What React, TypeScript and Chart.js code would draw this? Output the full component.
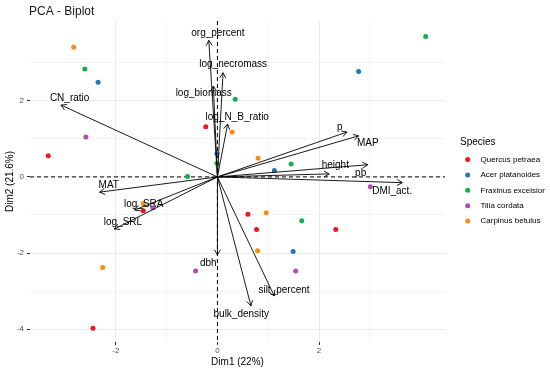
import React, { useEffect, useRef } from "react";
import { Chart, registerables } from "chart.js";

Chart.register(...registerables);

// ---- data ----
const speciesNames = ["Quercus petraea", "Acer platanoides", "Fraxinus excelsior", "Tilia cordata", "Carpinus betulus"];
const speciesColors = ["#F2141C", "#1A78C4", "#12B04A", "#AE4BB4", "#FF8A14"];

const quercusX = [-3.33, -0.23, 0.60, 0.77, 2.33, -1.46, -2.45];
const quercusY = [0.56, 1.32, -0.98, -1.38, -1.38, -0.89, -3.98];
const acerX = [-2.35, 2.78, -0.01, 1.12, 1.49];
const acerY = [2.49, 2.77, 0.61, 0.17, -1.96];
const fraxinusX = [4.10, -2.61, 0.35, -0.01, -0.59, 1.45, 1.66];
const fraxinusY = [3.69, 2.84, 2.04, 0.36, 0.01, 0.34, -1.15];
const tiliaX = [-2.59, -1.27, -0.43, 3.01, 1.54];
const tiliaY = [1.05, -0.81, -2.47, -0.26, -2.47];
const carpinusX = [-2.83, 0.29, 0.80, -1.46, 0.96, 0.79, -2.26];
const carpinusY = [3.41, 1.18, 0.49, -0.70, -0.94, -1.94, -2.38];

const varNames = ["org_percent", "log_necromass", "log_biomass", "log_N_B_ratio", "CN_ratio", "p", "MAP", "height", "pb", "DMI_act.", "MAT", "log_SRA", "log_SRL", "dbh", "bulk_density", "silt_percent"];
const varX = [-0.17, 0.11, -0.08, 0.20, -3.08, 2.55, 2.78, 2.96, 2.20, 3.64, -2.32, -1.63, -2.03, 0.00, 0.66, 1.12];
const varY = [3.59, 2.74, 2.39, 1.39, 1.89, 1.18, 1.08, 0.32, 0.08, -0.15, -0.40, -0.87, -1.37, -2.05, -3.39, -3.13];
const labelX = [0.01, 0.31, -0.27, 0.39, -2.91, 2.41, 2.96, 2.32, 2.82, 3.44, -2.14, -1.45, -1.86, -0.18, 0.47, 1.31];
const labelY = [3.78, 2.95, 2.20, 1.57, 2.06, 1.30, 0.89, 0.30, 0.09, -0.37, -0.21, -0.72, -1.19, -2.28, -3.61, -2.98];

const xMin = -3.69, xMax = 4.48, yMin = -4.34, yMax = 4.10;
const titleText = "PCA - Biplot";
const xTitle = "Dim1 (22%)";
const yTitle = "Dim2 (21.6%)";
const legendTitle = "Species";

const FONT = "'Liberation Sans', Arial, sans-serif";

const seriesX = [quercusX, acerX, fraxinusX, tiliaX, carpinusX];
const seriesY = [quercusY, acerY, fraxinusY, tiliaY, carpinusY];

const overlayPlugin = {
  id: "overlay",
  beforeDatasetsDraw(chart: any) {
    const { ctx, chartArea, scales } = chart;
    const x0 = scales.x.getPixelForValue(0);
    const y0 = scales.y.getPixelForValue(0);
    ctx.save();
    ctx.strokeStyle = "#000";
    ctx.lineWidth = 1;
    ctx.setLineDash([4, 3]);
    ctx.beginPath();
    ctx.moveTo(chartArea.left, y0);
    ctx.lineTo(chartArea.right, y0);
    ctx.moveTo(x0, chartArea.top);
    ctx.lineTo(x0, chartArea.bottom);
    ctx.stroke();
    ctx.restore();
  },
  afterDatasetsDraw(chart: any) {
    const { ctx, scales } = chart;
    const ox = scales.x.getPixelForValue(0);
    const oy = scales.y.getPixelForValue(0);
    ctx.save();
    ctx.strokeStyle = "#000";
    ctx.lineWidth = 0.9;
    ctx.setLineDash([]);
    for (let i = 0; i < varNames.length; i++) {
      const tx = scales.x.getPixelForValue(varX[i]);
      const ty = scales.y.getPixelForValue(varY[i]);
      const ang = Math.atan2(ty - oy, tx - ox);
      const L = 6;
      ctx.beginPath();
      ctx.moveTo(ox, oy);
      ctx.lineTo(tx, ty);
      ctx.moveTo(tx - L * Math.cos(ang - Math.PI / 6), ty - L * Math.sin(ang - Math.PI / 6));
      ctx.lineTo(tx, ty);
      ctx.lineTo(tx - L * Math.cos(ang + Math.PI / 6), ty - L * Math.sin(ang + Math.PI / 6));
      ctx.stroke();
    }
    ctx.fillStyle = "#000";
    ctx.font = `10px ${FONT}`;
    ctx.textAlign = "center";
    ctx.textBaseline = "middle";
    for (let i = 0; i < varNames.length; i++) {
      ctx.fillText(varNames[i], scales.x.getPixelForValue(labelX[i]), scales.y.getPixelForValue(labelY[i]));
    }
    ctx.restore();
  },
  afterDraw(chart: any) {
    const { ctx, chartArea } = chart;
    ctx.save();
    ctx.fillStyle = "#1a1a1a";
    ctx.font = `12px ${FONT}`;
    ctx.textAlign = "left";
    ctx.textBaseline = "middle";
    ctx.fillText(titleText, 29, 12);

    ctx.fillStyle = "#000";
    ctx.font = `10px ${FONT}`;
    ctx.textAlign = "center";
    ctx.fillText(xTitle, (chartArea.left + chartArea.right) / 2, 362);
    ctx.save();
    ctx.translate(10, (chartArea.top + chartArea.bottom) / 2);
    ctx.rotate(-Math.PI / 2);
    ctx.fillText(yTitle, 0, 0);
    ctx.restore();

    // legend
    ctx.textAlign = "left";
    ctx.font = `10px ${FONT}`;
    ctx.fillStyle = "#000";
    ctx.fillText(legendTitle, 460, 142);
    ctx.font = `8px ${FONT}`;
    for (let i = 0; i < speciesNames.length; i++) {
      const cy = 159.5 + i * 15.4;
      ctx.fillStyle = speciesColors[i];
      ctx.beginPath();
      ctx.arc(467.7, cy, 2.5, 0, Math.PI * 2);
      ctx.fill();
      ctx.fillStyle = "#000";
      ctx.fillText(speciesNames[i], 480.5, cy);
    }
    ctx.restore();
  },
};

const isMajor = (v: number) => Math.abs(v % 2) < 1e-9;

export default function App() {
  const canvasRef = useRef<HTMLCanvasElement | null>(null);

  useEffect(() => {
    if (!canvasRef.current) return;
    const datasets = speciesNames.map((name, s) => ({
      label: name,
      data: seriesX[s].map((x, i) => ({ x, y: seriesY[s][i] })),
      backgroundColor: speciesColors[s],
      borderColor: speciesColors[s],
      borderWidth: 0,
      pointRadius: 2.5,
      pointHoverRadius: 2.5,
    }));

    const gridCfg = {
      color: (c: any) => (c.tick && !isMajor(c.tick.value) ? "#F3F3F3" : "#EBEBEB"),
      lineWidth: 1,
      tickLength: 3,
      tickColor: (c: any) => (c.tick && !isMajor(c.tick.value) ? "rgba(0,0,0,0)" : "#333333"),
      drawTicks: true,
    };
    const filterInt = (scale: any) => {
      scale.ticks = scale.ticks.filter((t: any) => Math.abs(t.value - Math.round(t.value)) < 1e-9);
    };

    const chart = new Chart(canvasRef.current, {
      type: "scatter",
      data: { datasets },
      options: {
        animation: false,
        responsive: false,
        devicePixelRatio: 1,
        events: [],
        layout: { padding: { left: 0, top: 21, right: 105, bottom: 0 } },
        plugins: { legend: { display: false }, title: { display: false }, tooltip: { enabled: false } },
        scales: {
          x: {
            type: "linear",
            min: xMin,
            max: xMax,
            border: { display: false },
            grid: gridCfg as any,
            afterBuildTicks: filterInt,
            afterFit: (s: any) => { s.height = 29; },
            ticks: {
              stepSize: 1,
              autoSkip: false,
              maxRotation: 0,
              padding: 1,
              color: "#4D4D4D",
              font: { size: 8, family: FONT },
              callback: (v: any) => (isMajor(Number(v)) ? String(Math.round(Number(v))) : ""),
            },
          },
          y: {
            type: "linear",
            min: yMin,
            max: yMax,
            border: { display: false },
            grid: gridCfg as any,
            afterBuildTicks: filterInt,
            afterFit: (s: any) => { s.width = 30; },
            ticks: {
              stepSize: 1,
              autoSkip: false,
              padding: 3,
              color: "#4D4D4D",
              font: { size: 8, family: FONT },
              callback: (v: any) => (isMajor(Number(v)) ? String(Math.round(Number(v))) : ""),
            },
          },
        },
      },
      plugins: [overlayPlugin],
    });
    return () => chart.destroy();
  }, []);

  return (
    <div style={{ position: "absolute", left: 0, top: 0, width: 550, height: 371, background: "#fff" }}>
      <canvas ref={canvasRef} width={550} height={371} style={{ width: 550, height: 371 }} />
    </div>
  );
}
